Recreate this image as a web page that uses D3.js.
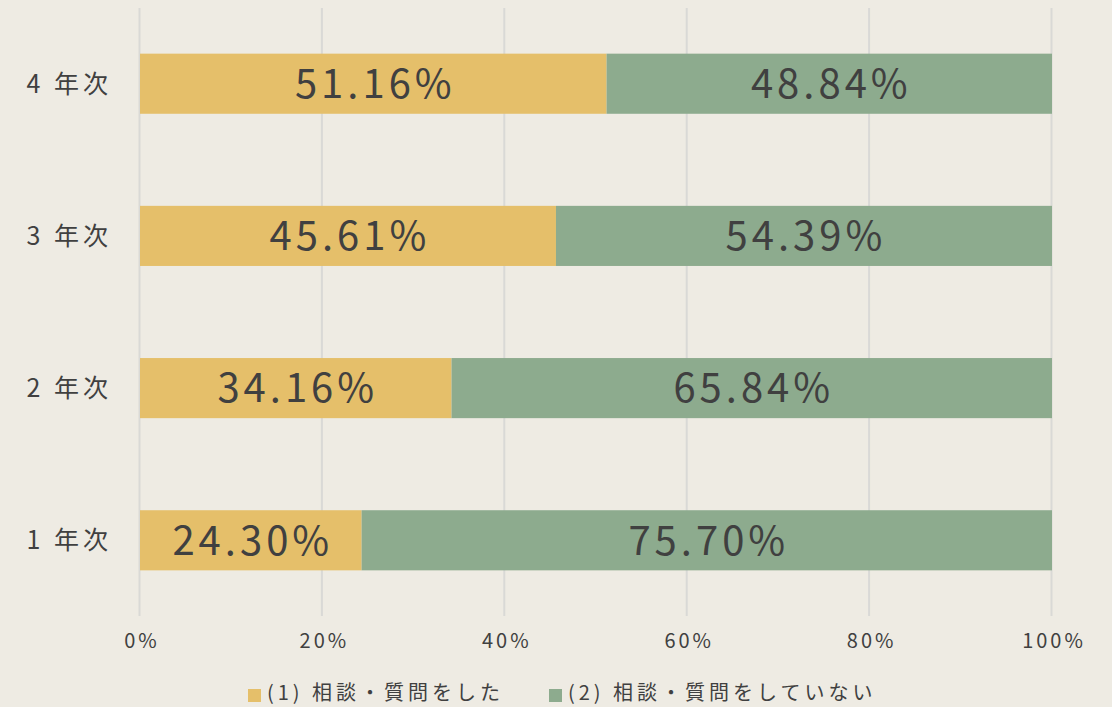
<!DOCTYPE html>
<html><head><meta charset="utf-8">
<script src="https://cdn.jsdelivr.net/npm/d3@7"></script>
<style>
html,body{margin:0;padding:0;background:#EEEBE3;}
text{font-family:"Noto Sans CJK JP","Noto Sans",sans-serif;fill:#404040;}
</style></head>
<body><svg id="c" width="1112" height="707"></svg>
<script>
const categories = ["4年次","3年次","2年次","1年次"];
const consulted = [51.16, 45.61, 34.16, 24.30];
const notConsulted = [48.84, 54.39, 65.84, 75.70];
const seriesNames = ["(1) 相談・質問をした", "(2) 相談・質問をしていない"];
const tickValues = [0,20,40,60,80,100];
const colors = ["#E5BF6A", "#8DAB8E"];

const svg = d3.select("#c");
svg.append("rect").attr("width",1112).attr("height",707).attr("fill","#EEEBE3");
const x = d3.scaleLinear().domain([0,100]).range([140,1052]);
const y = d3.scaleBand().domain(categories).range([8,616]).paddingInner(0.605).paddingOuter(0.3);

// gridlines
svg.append("g").selectAll("line").data(tickValues).join("line")
  .attr("x1",d=>x(d)-0.5).attr("x2",d=>x(d)-0.5).attr("y1",8).attr("y2",616)
  .attr("stroke","#D9D9D6").attr("stroke-width",2);

const stacks = categories.map((c,i)=>({c, vals:[consulted[i], notConsulted[i]]}));
const g = svg.append("g");
const ls = 4;
stacks.forEach(s=>{
  let acc = 0;
  s.vals.forEach((v,j)=>{
    const x0 = x(acc), x1 = x(acc+v);
    g.append("rect").attr("x",x0).attr("y",y(s.c)).attr("width",x1-x0).attr("height",y.bandwidth()).attr("fill",colors[j]);
    g.append("text").attr("x",(x0+x1)/2 + ls/2).attr("y",y(s.c)+y.bandwidth()/2).attr("dy","0.36em")
      .attr("text-anchor","middle").attr("font-size",40).attr("letter-spacing",ls+"px").text(v.toFixed(2)+"%");
    acc += v;
  });
});

// y axis labels
svg.append("g").selectAll("text").data(categories).join("text")
  .attr("x",112).attr("y",d=>y(d)+y.bandwidth()/2).attr("dy","0.36em").attr("text-anchor","end")
  .attr("font-size",25).attr("letter-spacing","4px").text(d=>d.replace("年"," 年"));

// x axis
const xa = d3.axisBottom(x).tickValues(tickValues).tickFormat(d=>d+"%").tickSize(0).tickPadding(0);
const ax = svg.append("g").attr("transform","translate(0,634)").call(xa);
ax.select(".domain").remove();
ax.selectAll("text").attr("font-size",20).attr("dy","0.71em").attr("dx","1.5px").attr("letter-spacing","3px").attr("fill","#505050")
  .style("font-family",'"Noto Sans CJK JP",sans-serif');

// legend
const leg = svg.append("g");
const lx = [248, 549];
seriesNames.forEach((n,i)=>{
  leg.append("rect").attr("x",lx[i]).attr("y",689).attr("width",13).attr("height",13).attr("fill",colors[i]);
  leg.append("text").attr("x",lx[i]+19).attr("y",693).attr("dy","0.36em").attr("font-size",20)
    .attr("letter-spacing","4px").attr("fill","#505050").text(n);
});
</script></body></html>
